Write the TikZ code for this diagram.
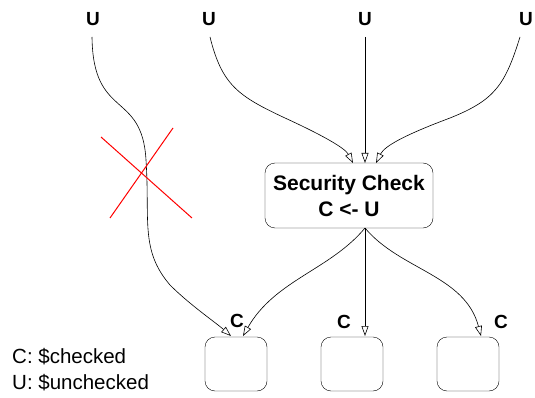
\documentclass[tikz,border=0pt]{standalone}
\usepackage{fontspec}
\setmainfont{Liberation Sans}
\usetikzlibrary{arrows.meta}
\begin{document}
\begin{tikzpicture}[x=1pt,y=-1pt,
  lbl/.style={font=\bfseries\fontsize{19}{22}\selectfont, inner sep=0pt},
  conn/.style={draw, line width=0.6pt, -{Triangle[open,length=10pt,width=7pt]}},
  plainbox/.style={draw, rounded corners=10pt, minimum width=62pt, minimum height=54pt, inner sep=0pt},
  cbox/.style={draw, rounded corners=10pt, align=center, font=\bfseries\fontsize{21}{26}\selectfont, minimum width=168pt, minimum height=65pt, inner sep=0pt},
  legend/.style={font=\fontsize{20.5}{24}\selectfont, anchor=west, inner sep=0pt}]
\useasboundingbox (0,0) rectangle (535,398);
\node[lbl] (u1) at (93,19) {U};
\node[lbl] (u2) at (209,19) {U};
\node[lbl] (u3) at (365,19) {U};
\node[lbl] (u4) at (526,19) {U};
\coordinate (s1) at (92,37);
\coordinate (s2) at (210,37);
\coordinate (s3) at (365,37);
\coordinate (s4) at (520,37);
\node[cbox] (sc) at (349,195.5) {Security Check\\C <- U};
\node[plainbox] (b1) at (236,364) {};
\node[plainbox] (b2) at (352,364) {};
\node[plainbox] (b3) at (468,364) {};
\node[lbl] (c1) at (237,321) {C};
\node[lbl] (c2) at (344,322) {C};
\node[lbl] (c3) at (501,322) {C};
\coordinate (t1) at (353,163);
\coordinate (t2) at (365,163);
\coordinate (t3) at (376,163);
\coordinate (e1a) at (231,336);
\coordinate (e1b) at (243,336);
\coordinate (e2) at (365,336);
\coordinate (e3) at (481,336);
\coordinate (sb) at (365,228);
% top inputs
\draw[conn] (s2) .. controls (222,85) and (238,96) .. (285,118) .. controls (322,135) and (345,148) .. (t1);
\draw[conn] (s3) -- (t2);
\draw[conn] (s4) .. controls (505,85) and (495,100) .. (450,118) .. controls (410,133) and (385,145) .. (t3);
% left bypass
\draw[conn] (s1) .. controls (93,120) and (142,90) .. (146,160) .. controls (150,220) and (140,250) .. (170,285) .. controls (190,305) and (215,322) .. (e1a);
% outputs
\draw[conn] (sb) .. controls (330,270) and (275,280) .. (e1b);
\draw[conn] (sb) -- (e2);
\draw[conn] (sb) .. controls (400,270) and (465,275) .. (e3);
% red cross
\draw[red, line width=1pt] (101,137) -- (192,218);
\draw[red, line width=1pt] (173,128) -- (110,218);
% legend
\node[legend] (l1) at (12,357) {C: \$checked};
\node[legend] (l2) at (12,383) {U: \$unchecked};
\end{tikzpicture}
\end{document}
